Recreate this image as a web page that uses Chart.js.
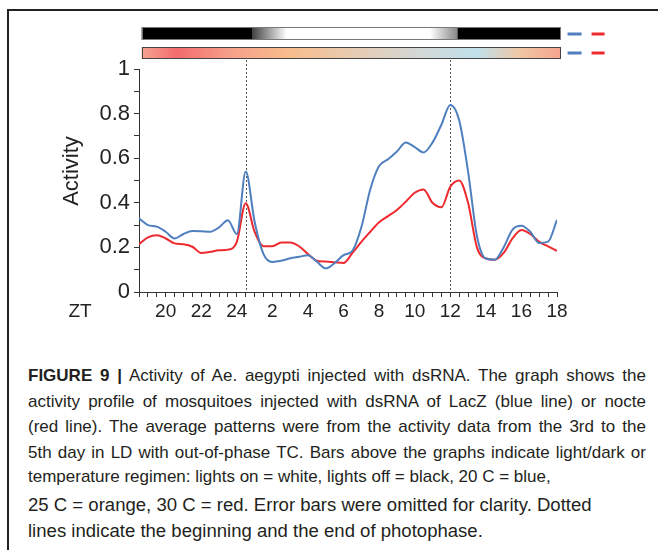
<!DOCTYPE html>
<html><head><meta charset="utf-8">
<script src="https://cdn.jsdelivr.net/npm/chart.js@4.4.0/dist/chart.umd.min.js"></script>
<style>
html,body{margin:0;padding:0;background:#fff;width:658px;height:550px;overflow:hidden;}
#frame{position:absolute;left:7px;top:9px;width:700px;height:600px;border-left:2px solid #222;border-top:2px solid #222;}
#c{position:absolute;left:0;top:0;}
.cap{position:absolute;left:28px;font-family:"Liberation Sans",Arial,sans-serif;font-size:17px;line-height:20px;color:#231f20;white-space:nowrap;transform-origin:0 50%;}
.j{width:618px;text-align:justify;text-align-last:justify;}
.big{font-size:17.5px;transform:scaleX(1.06);}
</style></head><body>
<div id="frame"></div>
<canvas id="c" width="658" height="340"></canvas>
<div class="cap j" style="top:366px"><b>FIGURE 9 |</b> Activity of Ae. aegypti injected with dsRNA. The graph shows the</div>
<div class="cap j" style="top:392px">activity profile of mosquitoes injected with dsRNA of LacZ (blue line) or nocte</div>
<div class="cap j" style="top:417px">(red line). The average patterns were from the activity data from the 3rd to the</div>
<div class="cap j" style="top:443px">5th day in LD with out-of-phase TC. Bars above the graphs indicate light/dark or</div>
<div class="cap" style="top:467px">temperature regimen: lights on = white, lights off = black, 20 C = blue,</div>
<div class="cap big" style="top:495px">25 C = orange, 30 C = red. Error bars were omitted for clarity. Dotted</div>
<div class="cap big" style="top:521px">lines indicate the beginning and the end of photophase.</div>
<script>
// x values: hours (24 = ZT 0 of the next day)
const hours = [18.5,19,19.5,20,20.5,21,21.5,22,22.5,23,23.5,24,24.5,25,25.5,26,26.5,27,27.5,28,28.5,29,29.5,30,30.5,31,31.5,32,32.5,33,33.5,34,34.5,35,35.5,36,36.5,37,37.5,38,38.5,39,39.5,40,40.5,41,41.5,42];
const lacZ = [0.33,0.30,0.293,0.27,0.24,0.26,0.273,0.272,0.27,0.29,0.322,0.26,0.54,0.315,0.17,0.135,0.14,0.151,0.158,0.165,0.136,0.106,0.13,0.165,0.185,0.29,0.46,0.565,0.595,0.63,0.67,0.65,0.626,0.67,0.75,0.839,0.77,0.54,0.25,0.15,0.145,0.2,0.28,0.297,0.27,0.22,0.226,0.323];
const nocte = [0.214,0.245,0.255,0.24,0.218,0.214,0.203,0.175,0.18,0.187,0.19,0.225,0.398,0.27,0.205,0.205,0.222,0.222,0.205,0.17,0.14,0.137,0.133,0.13,0.175,0.225,0.27,0.313,0.34,0.368,0.405,0.445,0.46,0.4,0.38,0.472,0.5,0.4,0.2,0.15,0.145,0.175,0.24,0.278,0.26,0.225,0.205,0.184];
const xTickValues = [20,22,24,26,28,30,32,34,36,38,40,42];
const xTickLabels = ['20','22','24','2','4','6','8','10','12','14','16','18'];
const yTickValues = [0,0.2,0.4,0.6,0.8,1];
const yTickLabels = ['0','0.2','0.4','0.6','0.8','1'];
const photophaseLines = [24.5, 36];
const barStart = 18.65, barEnd = 42.2;
const lightStops = [[18.65,'#000'],[24.83,'#000'],[24.85,'#404040'],[26.8,'#fff'],[34.85,'#fff'],[36.4,'#888'],[36.42,'#000'],[42.2,'#000']];
const tempStops = [[18.65,'#f5a491'],[20.63,'#f36b6d'],[23.6,'#f6a08a'],[26.98,'#f8bd8c'],[30.35,'#e8cbb0'],[34.28,'#d3d8d6'],[37.49,'#c0e0eb'],[39.9,'#f0c7a6'],[42.2,'#f5a48e']];
const BLUE = '#4f7fbf', RED = '#ee2a2e';
const FONT = '"Liberation Sans", Arial, sans-serif';

const decor = {
  id: 'decor',
  beforeDatasetsDraw(chart) {
    const ctx = chart.ctx, xs = chart.scales.x, ca = chart.chartArea;
    ctx.save();
    ctx.strokeStyle = '#555'; ctx.lineWidth = 1; ctx.setLineDash([2, 2]);
    photophaseLines.forEach(v => {
      const px = Math.round(xs.getPixelForValue(v)) + 0.5;
      ctx.beginPath(); ctx.moveTo(px, ca.top - 9); ctx.lineTo(px, ca.bottom); ctx.stroke();
    });
    ctx.restore();
  },
  afterDraw(chart) {
    const ctx = chart.ctx, xs = chart.scales.x, ca = chart.chartArea;
    const x0 = xs.getPixelForValue(barStart), x1 = xs.getPixelForValue(barEnd);
    const span = barEnd - barStart;
    ctx.save();
    let g = ctx.createLinearGradient(x0, 0, x1, 0);
    lightStops.forEach(([v, c]) => g.addColorStop((v - barStart) / span, c));
    const yb = ca.top - 42;
    ctx.fillStyle = g; ctx.fillRect(x0, yb, x1 - x0, 13);
    ctx.strokeStyle = '#777'; ctx.lineWidth = 1; ctx.strokeRect(Math.round(x0) + 0.5, yb + 0.5, Math.round(x1 - x0) - 1, 12);
    g = ctx.createLinearGradient(x0, 0, x1, 0);
    tempStops.forEach(([v, c]) => g.addColorStop((v - barStart) / span, c));
    const yt = ca.top - 22;
    ctx.fillStyle = g; ctx.fillRect(x0, yt, x1 - x0, 12);
    ctx.strokeStyle = '#444'; ctx.strokeRect(Math.round(x0) + 0.5, yt + 0.5, Math.round(x1 - x0) - 1, 11);
    // legend dashes
    ctx.lineWidth = 3;
    [yb + 7, yt + 6].forEach(y => {
      ctx.strokeStyle = BLUE; ctx.beginPath(); ctx.moveTo(x1 + 7, y); ctx.lineTo(x1 + 21, y); ctx.stroke();
      ctx.strokeStyle = RED; ctx.beginPath(); ctx.moveTo(x1 + 31, y); ctx.lineTo(x1 + 44, y); ctx.stroke();
    });
    // texts
    ctx.fillStyle = '#222';
    ctx.font = '19px ' + FONT; ctx.textAlign = 'center'; ctx.textBaseline = 'middle';
    ctx.fillText('ZT', 80, 312);
    ctx.translate(72, 171); ctx.rotate(-Math.PI / 2);
    ctx.font = '22px ' + FONT;
    ctx.fillText('Activity', 0, 0);
    ctx.restore();
  }
};

new Chart(document.getElementById('c'), {
  type: 'line',
  data: {
    labels: hours,
    datasets: [
      { label: 'LacZ', data: hours.map((h, i) => ({x: h, y: lacZ[i]})), borderColor: BLUE, borderWidth: 2, pointRadius: 0, cubicInterpolationMode: 'monotone', fill: false },
      { label: 'nocte', data: hours.map((h, i) => ({x: h, y: nocte[i]})), borderColor: RED, borderWidth: 2, pointRadius: 0, cubicInterpolationMode: 'monotone', fill: false }
    ]
  },
  options: {
    responsive: false, animation: false, devicePixelRatio: 1,
    layout: { padding: { left: 0, right: 101, top: 69, bottom: 0 } },
    plugins: { legend: { display: false }, tooltip: { enabled: false } },
    scales: {
      x: {
        type: 'linear', min: 18.5, max: 42,
        afterFit(s) { s.height = 48; },
        grid: { display: true, drawOnChartArea: false, drawTicks: true, tickLength: 5, color: '#333' },
        border: { display: true, color: '#333', width: 1 },
        ticks: {
          stepSize: 0.5, maxTicksLimit: 200, autoSkip: false, maxRotation: 0, minRotation: 0, padding: 3,
          color: '#222', font: { family: FONT, size: 19 },
          callback(v) { const i = xTickValues.indexOf(v); return i >= 0 ? xTickLabels[i] : ''; }
        }
      },
      y: {
        min: 0, max: 1,
        afterFit(s) { s.width = 139; },
        grid: { display: true, drawOnChartArea: false, drawTicks: true, tickLength: 5, color: '#333' },
        border: { display: true, color: '#333', width: 1 },
        ticks: {
          stepSize: 0.1, autoSkip: false, padding: 4,
          color: '#222', font: { family: FONT, size: 22 },
          callback(v) { const r = Math.round(v * 10) / 10; const i = yTickValues.findIndex(t => Math.abs(t - r) < 1e-9); return i >= 0 ? yTickLabels[i] : ''; }
        }
      }
    }
  },
  plugins: [decor]
});
</script>
</body></html>
